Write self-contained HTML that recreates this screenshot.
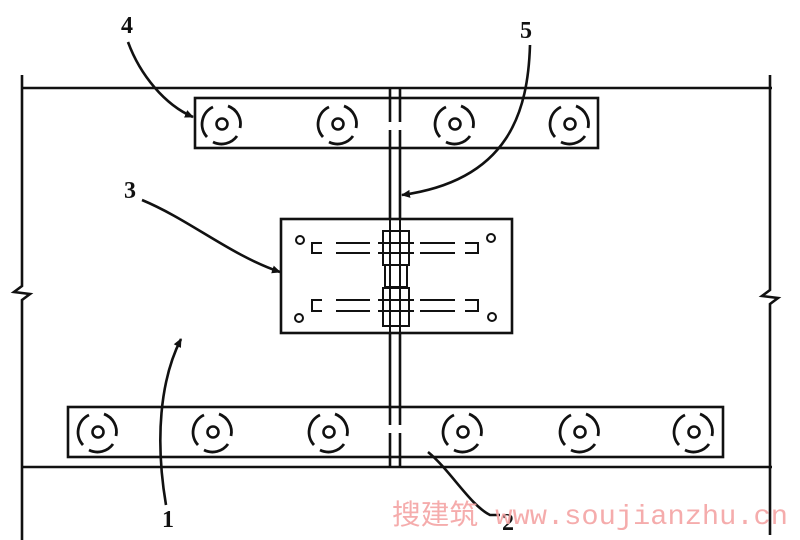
<!DOCTYPE html>
<html><head><meta charset="utf-8"><style>
html,body{margin:0;padding:0;background:#fff;width:800px;height:540px;overflow:hidden}
</style></head><body>
<svg width="800" height="540" viewBox="0 0 800 540" xmlns="http://www.w3.org/2000/svg">
<defs>
<g id="bolt" fill="none" stroke="#111" stroke-width="2.8">
<path d="M -9 -17 A 19 19 0 0 0 -15 13" />
<path d="M 6 -18 A 19 19 0 0 1 18 4" />
<path d="M -9 18 A 19 19 0 0 0 15 12" />
<circle r="5.5" stroke-width="2.6"/>
</g>
<marker id="ah" markerWidth="10" markerHeight="10" refX="8" refY="5" orient="auto" markerUnits="userSpaceOnUse">
<path d="M0,1 L9,5 L0,9 z" fill="#111"/>
</marker>
</defs>
<g stroke="#111" stroke-width="2.6" fill="none">
<line x1="22" y1="88" x2="772" y2="88"/>
<line x1="22" y1="467" x2="772" y2="467"/>
<path d="M22 75 V286 L14 292 L30 294 L22 300 V540"/>
<path d="M770 75 V290 L762 296 L778 298 L770 304 V535"/>
<path d="M390 88 V122 M390 130 V218 M390 333 V425 M390 433 V467"/>
<path d="M400 88 V122 M400 130 V218 M400 333 V425 M400 433 V467"/>
<rect x="195" y="98" width="403" height="50"/>
<rect x="281" y="219" width="231" height="114"/>
<rect x="68" y="407" width="655" height="50"/>
<g stroke-width="2">
<circle cx="300" cy="240" r="4"/><circle cx="491" cy="238" r="4"/>
<circle cx="299" cy="318" r="4"/><circle cx="492" cy="317" r="4"/>
<path d="M322 243 H312 V253 H322"/>
<path d="M336 243 H370 M336 253 H370"/>
<path d="M420 243 H455 M420 253 H455"/>
<path d="M465 243 H478 V253 H465"/>
<path d="M322 300 H312 V311 H322"/>
<path d="M336 300 H370 M336 311 H370"/>
<path d="M420 300 H455 M420 311 H455"/>
<path d="M465 300 H478 V311 H465"/>
<rect x="383" y="231" width="26" height="34"/>
<rect x="385" y="265" width="22" height="22"/>
<rect x="383" y="288" width="26" height="38"/>
<path d="M378 243 H414 M378 253 H414 M378 300 H414 M378 311 H414"/>
<path d="M390 219 V333 M400 219 V333"/>
</g>
<path d="M128 42 C140 75 165 105 193 117" marker-end="url(#ah)"/>
<path d="M530 45 C528 110 510 180 402 195" marker-end="url(#ah)"/>
<path d="M142 200 C190 220 230 255 280 272" marker-end="url(#ah)"/>
<path d="M166 505 C155 440 160 380 181 339" marker-end="url(#ah)"/>
<path d="M428 452 C450 470 470 505 490 515 H500"/>
</g>
<use href="#bolt" x="222" y="124"/><use href="#bolt" x="338" y="124"/>
<use href="#bolt" x="455" y="124"/><use href="#bolt" x="570" y="124"/>
<use href="#bolt" x="98" y="432"/><use href="#bolt" x="213" y="432"/>
<use href="#bolt" x="329" y="432"/><use href="#bolt" x="463" y="432"/>
<use href="#bolt" x="580" y="432"/><use href="#bolt" x="694" y="432"/>
<g font-family="Liberation Serif, serif" font-weight="bold" font-size="24" fill="#111">
<text x="121" y="33">4</text>
<text x="520" y="38">5</text>
<text x="124" y="198">3</text>
<text x="162" y="527">1</text>
<text x="502" y="530">2</text>
</g>
<text x="392" y="524" textLength="396" lengthAdjust="spacingAndGlyphs" font-family="Liberation Mono, 'Noto Sans CJK SC', monospace" font-size="28" fill="#f4a4a4" opacity="0.9">搜建筑 www.soujianzhu.cn</text>
</svg>
</body></html>
